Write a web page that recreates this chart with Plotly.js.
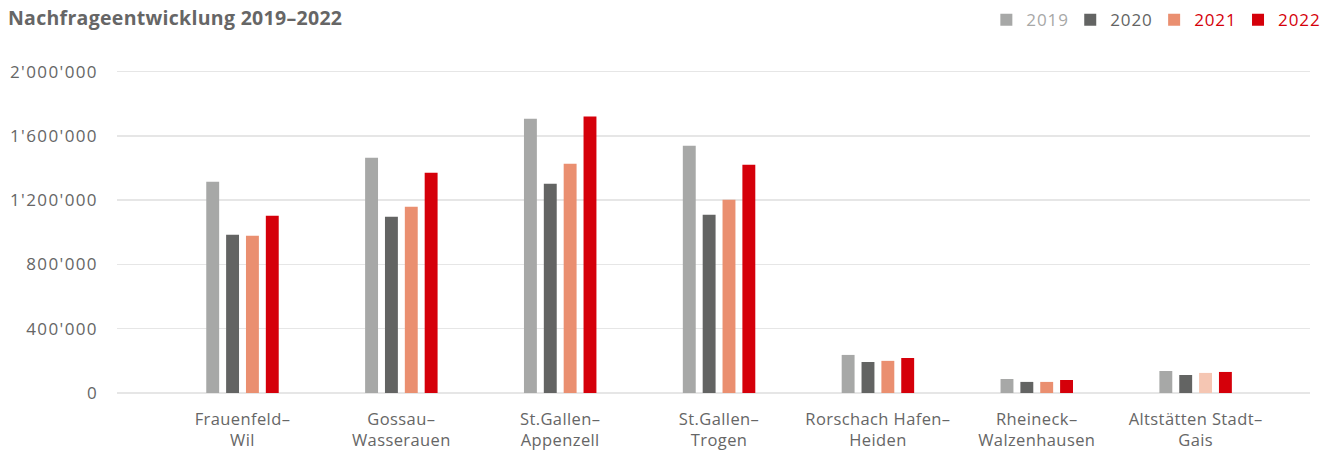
<!DOCTYPE html>
<html><head><meta charset="utf-8">
<script src="https://cdn.plot.ly/plotly-3.0.1.min.js"></script>
<style>html,body{margin:0;padding:0;background:#fff}#chart{width:1325px;height:450px}
#chart .ytick text{letter-spacing:1.4px}
#chart .xtick text{letter-spacing:0.4px}
#chart .legendtext{letter-spacing:0.9px}
#chart .gtitle{letter-spacing:0.3px}
</style>
</head><body><div id="chart"></div>
<script>
var categories = ["Frauenfeld–<br>Wil","Gossau–<br>Wasserauen","St.Gallen–<br>Appenzell","St.Gallen–<br>Trogen","Rorschach Hafen–<br>Heiden","Rheineck–<br>Walzenhausen","Altstätten Stadt–<br>Gais"];
var years = ["2019","2020","2021","2022"];
var v2019 = [1315000,1464000,1707000,1539000,237000,87000,137000];
var v2020 = [984000,1097000,1302000,1109000,193000,69000,112000];
var v2021 = [978000,1159000,1427000,1202000,200000,69000,125000];
var v2022 = [1103000,1371000,1720000,1421000,218000,81000,131000];
var yTicks = [0,400000,800000,1200000,1600000,2000000];
var yTickLabels = ["0","400'000","800'000","1'200'000","1'600'000","2'000'000"];

var colors = ["#A7A8A7","#636463","#EA8F70","#D5000A"];
var legendColors = ["#A7A8A7","#636463","#D5000A","#D5000A"];
var c2021 = v2021.map(function(_,i){return i===6 ? "#F5C6B3" : colors[2];});
var series = [v2019,v2020,v2021,v2022];
var traces = series.map(function(vals,i){
  return {
    type:"bar", x:categories.map(function(_,k){return k;}), y:vals,
    name:'<span style="color:'+legendColors[i]+'">'+years[i]+'</span>',
    marker:{color: i===2 ? c2021 : colors[i]},
    hoverinfo:"y"
  };
});
var font = "'Open Sans', 'Noto Sans', sans-serif";
var layout = {
  width:1325, height:450,
  margin:{l:117,r:15,t:70,b:57},
  paper_bgcolor:"#fff", plot_bgcolor:"#fff",
  font:{family:font, color:"#666", size:16},
  barmode:"group", bargap:0.5, bargroupgap:0.35,
  title:{text:"<b>Nachfrageentwicklung 2019–2022</b>", x:0.006, xanchor:"left", xref:"container", y:0.96, yanchor:"middle", yref:"container", font:{family:font,size:19.5,color:"#666"}},
  showlegend:true,
  legend:{orientation:"h", x:0.998, xanchor:"right", xref:"container", y:0.995, yanchor:"top", yref:"container", font:{family:font,size:17,color:"#666"}, itemwidth:30, traceorder:"normal"},
  xaxis:{tickmode:"array", tickvals:categories.map(function(_,k){return k;}), ticktext:categories, range:[-0.79,6.72], showgrid:false, zeroline:false, showline:false, ticks:"", ticklabelstandoff:14, tickfont:{size:16.5,color:"#666"}, fixedrange:true},
  yaxis:{range:[0,2010000], tickmode:"array", tickvals:yTicks, ticktext:yTickLabels, showgrid:true, gridcolor:"#e6e6e6", gridwidth:1.5, zeroline:true, zerolinecolor:"#e6e6e6", zerolinewidth:1.5, showline:false, ticks:"", ticklabelstandoff:18, tickfont:{size:17,color:"#666"}, fixedrange:true}
};
Plotly.newPlot("chart", traces, layout, {displayModeBar:false, staticPlot:true});
</script></body></html>
